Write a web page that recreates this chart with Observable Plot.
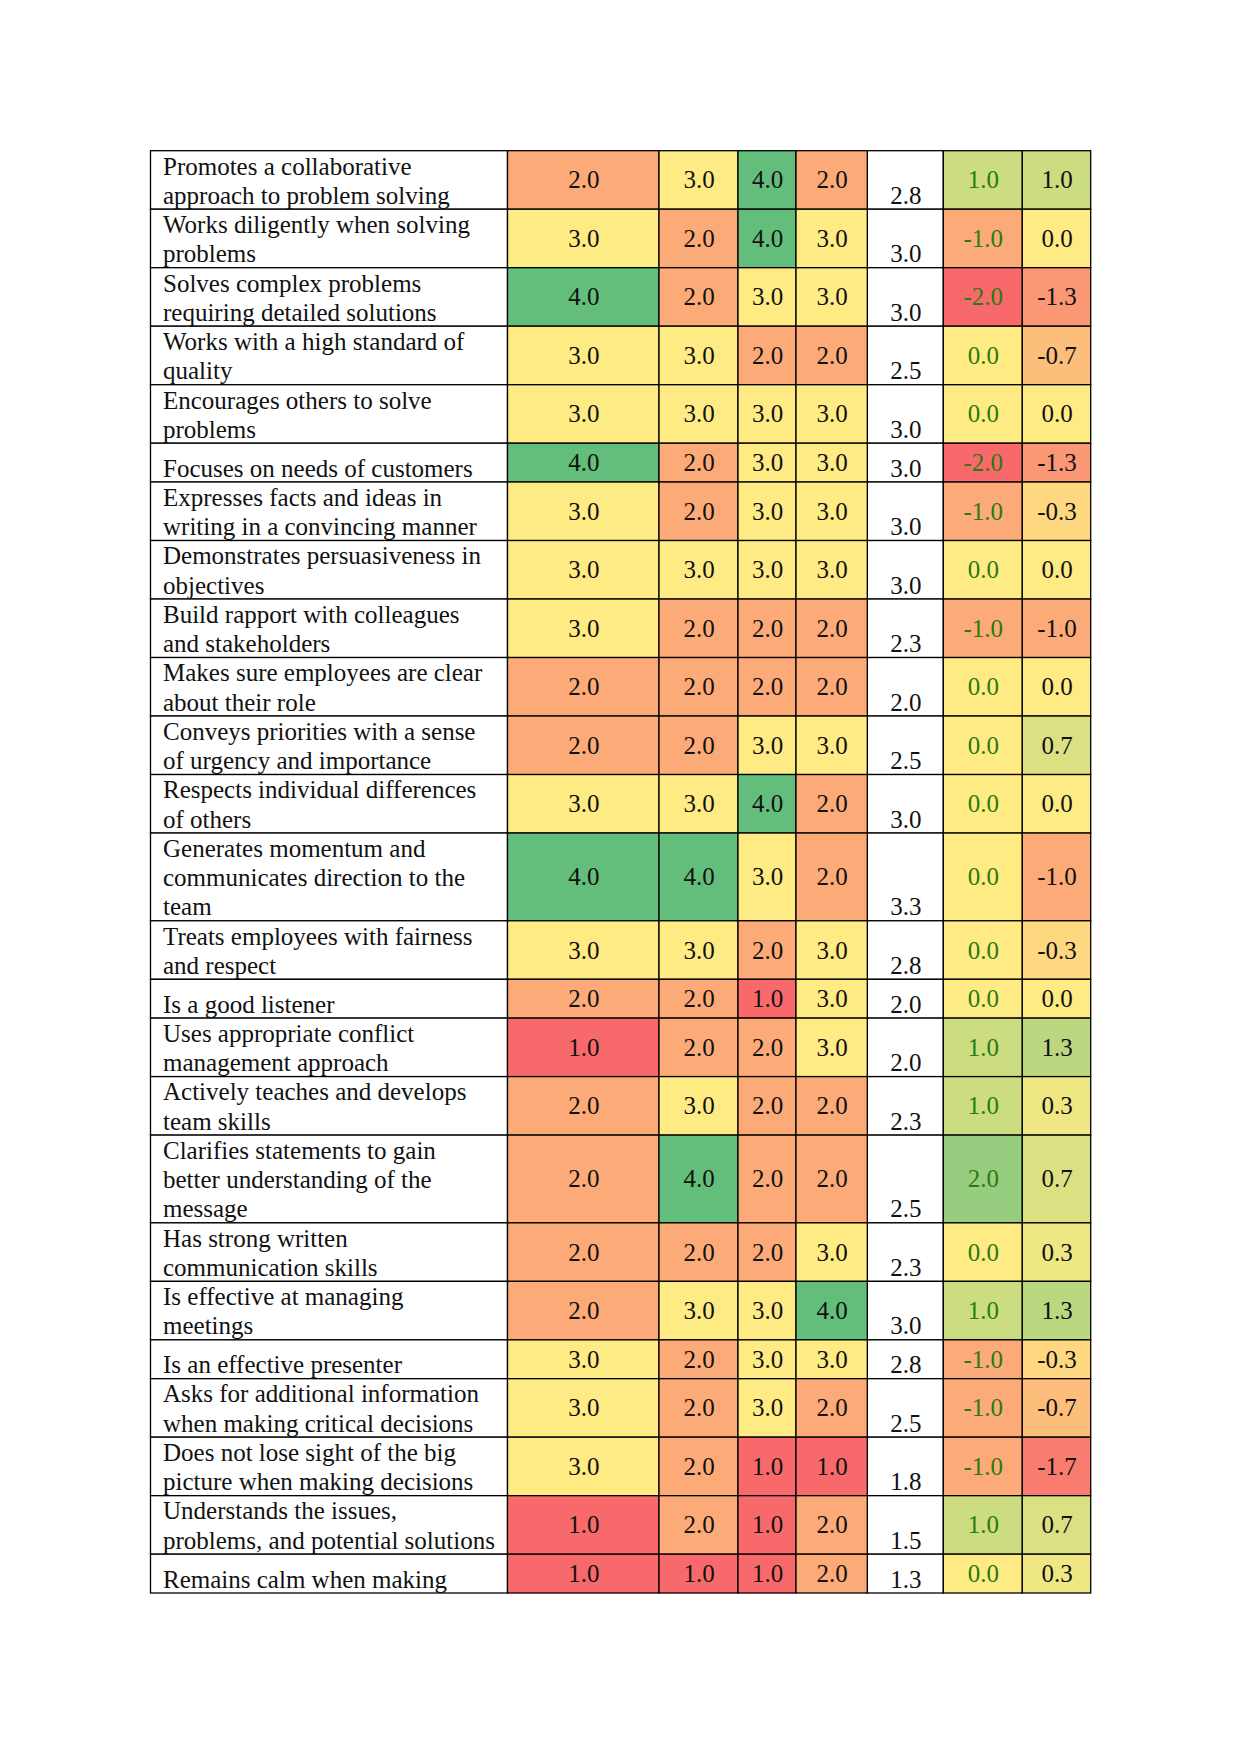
<!DOCTYPE html>
<html>
<head>
<meta charset="utf-8">
<script src="https://cdn.jsdelivr.net/npm/d3@7"></script>
<script src="https://cdn.jsdelivr.net/npm/@observablehq/plot@0.6"></script>
<style>
  html, body { margin: 0; padding: 0; background: #fff; }
  #chart svg { display: block; }
</style>
</head>
<body>
<div id="chart"></div>
<script>
// ---- data ----
const labels = [
  "Promotes a collaborative\napproach to problem solving",
  "Works diligently when solving\nproblems",
  "Solves complex problems\nrequiring detailed solutions",
  "Works with a high standard of\nquality",
  "Encourages others to solve\nproblems",
  "Focuses on needs of customers",
  "Expresses facts and ideas in\nwriting in a convincing manner",
  "Demonstrates persuasiveness in\nobjectives",
  "Build rapport with colleagues\nand stakeholders",
  "Makes sure employees are clear\nabout their role",
  "Conveys priorities with a sense\nof urgency and importance",
  "Respects individual differences\nof others",
  "Generates momentum and\ncommunicates direction to the\nteam",
  "Treats employees with fairness\nand respect",
  "Is a good listener",
  "Uses appropriate conflict\nmanagement approach",
  "Actively teaches and develops\nteam skills",
  "Clarifies statements to gain\nbetter understanding of the\nmessage",
  "Has strong written\ncommunication skills",
  "Is effective at managing\nmeetings",
  "Is an effective presenter",
  "Asks for additional information\nwhen making critical decisions",
  "Does not lose sight of the big\npicture when making decisions",
  "Understands the issues,\nproblems, and potential solutions",
  "Remains calm when making"
];
const rating1 = [2,3,4,3,3,4,3,3,3,2,2,3,4,3,2,1,2,2,2,2,3,3,3,1,1];
const rating2 = [3,2,2,3,3,2,2,3,2,2,2,3,4,3,2,2,3,4,2,3,2,2,2,2,1];
const rating3 = [4,4,3,2,3,3,3,3,2,2,3,4,3,2,1,2,2,2,2,3,3,3,1,1,1];
const rating4 = [2,3,3,2,3,3,3,3,2,2,3,2,2,3,3,3,2,2,3,4,3,2,1,2,2];
const average = [2.8,3.0,3.0,2.5,3.0,3.0,3.0,3.0,2.3,2.0,2.5,3.0,3.3,2.8,2.0,2.0,2.3,2.5,2.3,3.0,2.8,2.5,1.8,1.5,1.3];
const diff1   = [1,-1,-2,0,0,-2,-1,0,-1,0,0,0,0,0,0,1,1,2,0,1,-1,-1,-1,1,0];
const diff2   = [1.0,0.0,-1.3,-0.7,0.0,-1.3,-0.3,0.0,-1.0,0.0,0.7,0.0,-1.0,-0.3,0.0,1.3,0.3,0.7,0.3,1.3,-0.3,-0.7,-1.7,0.7,0.3];

// ---- layout (styles, not data) ----
const RED = "#F8696B", YELLOW = "#FFEB84", GREEN = "#63BE7B";
const colWidths = [357, 151.5, 79, 58, 71.3, 76, 79, 68.4];
const colEdges = [0, ...d3.cumsum(colWidths)];
const oneLineUnits = 1.327;
const rowUnits = labels.map(l => { const n = l.split("\n").length; return n === 1 ? oneLineUnits : n; });
const rowEdges = [0, ...d3.cumsum(rowUnits)];
const FONT = "'Liberation Serif', 'Times New Roman', serif";

// normalise values onto a common -1..1 colour position
const ratingPos = d3.scaleLinear().domain([1, 3, 4]).range([-1, 0, 1]);
const diffPos = d3.scaleLinear().domain([-2, 0, 3]).range([-1, 0, 1]);

const rows = labels.map((label, i) => ({label, i, y1: rowEdges[i], y2: rowEdges[i + 1]}));
const columns = [
  {values: rating1, kind: "rating"},
  {values: rating2, kind: "rating"},
  {values: rating3, kind: "rating"},
  {values: rating4, kind: "rating"},
  {values: average, kind: "avg"},
  {values: diff1, kind: "diff1"},
  {values: diff2, kind: "diff2"}
];
const cells = [];
columns.forEach((c, k) => {
  rows.forEach(r => {
    cells.push({
      x1: colEdges[k + 1], x2: colEdges[k + 2], y1: r.y1, y2: r.y2,
      value: c.values[r.i], kind: c.kind,
      pos: c.kind === "rating" ? ratingPos(c.values[r.i]) : c.kind === "avg" ? null : diffPos(c.values[r.i])
    });
  });
});
const colored = cells.filter(d => d.kind !== "avg");
const avgCells = cells.filter(d => d.kind === "avg");

const chart = Plot.plot({
  width: 1241,
  height: 1754,
  margin: 0,
  style: {background: "#fff", fontFamily: FONT},
  x: {type: "linear", domain: [0, colEdges[colEdges.length - 1]], range: [150.5, 1090.7], axis: null},
  y: {type: "linear", domain: [0, rowEdges[rowEdges.length - 1]], range: [150.7, 1593], axis: null},
  color: {type: "linear", domain: [-1, 0, 1], range: [RED, YELLOW, GREEN], interpolate: "rgb"},
  marks: [
    // label cells
    Plot.rect(rows, {x1: 0, x2: colEdges[1], y1: "y1", y2: "y2", fill: "#fff", stroke: "#000", strokeWidth: 1.3}),
    // average cells
    Plot.rect(avgCells, {x1: "x1", x2: "x2", y1: "y1", y2: "y2", fill: "#fff", stroke: "#000", strokeWidth: 1.3}),
    // coloured cells
    Plot.rect(colored, {x1: "x1", x2: "x2", y1: "y1", y2: "y2", fill: "pos", stroke: "#000", strokeWidth: 1.3}),
    // labels
    Plot.text(rows, {x: 0, y: "y2", text: "label", textAnchor: "start", lineAnchor: "bottom",
      lineHeight: 1.168, dx: 12, dy: -6, fontSize: 25, fontFamily: FONT, fill: "#111"}),
    // coloured values
    Plot.text(colored, {x: d => (d.x1 + d.x2) / 2, y: d => (d.y1 + d.y2) / 2, text: d => d.value.toFixed(1),
      fontSize: 25, fontFamily: FONT, fill: d => d.kind === "diff1" ? "#2a7a12" : "#111"}),
    // average values (bottom aligned)
    Plot.text(avgCells, {x: d => (d.x1 + d.x2) / 2, y: "y2", text: d => d.value.toFixed(1),
      lineAnchor: "bottom", dy: -6, fontSize: 25, fontFamily: FONT, fill: "#111"})
  ]
});
document.getElementById("chart").appendChild(chart);
</script>
</body>
</html>
